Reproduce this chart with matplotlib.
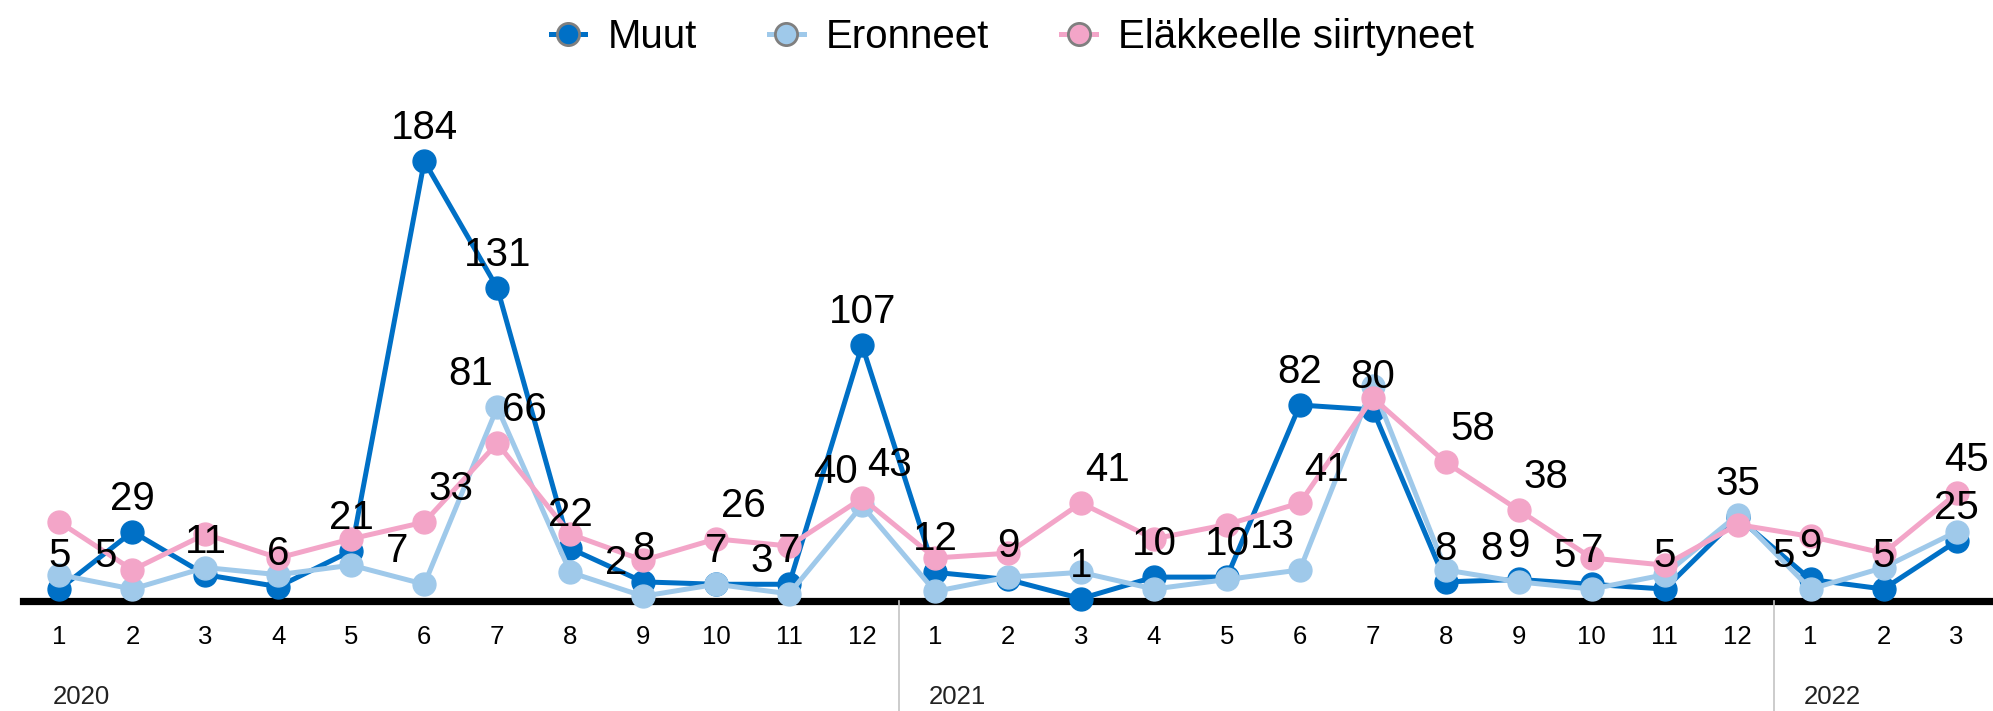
import matplotlib
matplotlib.use("Agg")
from matplotlib import pyplot as plt
from matplotlib.lines import Line2D

plt.rcParams['font.family'] = ['Liberation Sans', 'DejaVu Sans']

month_labels = [str(m) for m in range(1, 13)] * 2 + ['1', '2', '3']
years = ['2020', '2021', '2022']
year_starts = [0, 12, 24]

muut = [5, 29, 11, 6, 21, 184, 131, 22, 8, 7, 7, 107,
        12, 9, 1, 10, 10, 82, 80, 8, 9, 7, 5, 35,
        9, 5, 25]
eronneet = [11, 5, 14, 11, 15, 7, 81, 12, 2, 7, 3, 40,
            4, 10, 12, 5, 9, 13, 90, 13, 8, 5, 11, 36,
            5, 14, 29]
elakkeelle = [33, 13, 28, 18, 26, 33, 66, 28, 17, 26, 23, 43,
              18, 20, 41, 26, 32, 41, 85, 58, 38, 18, 15, 32,
              27, 20, 45]

# which points get a value label (others are hidden to avoid overlaps)
muut_shown = list(range(27))
eronneet_shown = [1, 5, 6, 8, 10, 11, 17, 20, 21, 24]
elakkeelle_shown = [5, 6, 9, 11, 14, 17, 19, 20, 26]

series = [
    ('Muut', muut, muut_shown, '#0070c6', 0),
    ('Eronneet', eronneet, eronneet_shown, '#9fc9ea', -27),
    ('Eläkkeelle siirtyneet', elakkeelle, elakkeelle_shown, '#f3a5c8', 27),
]

W, H = 1993, 711
fig = plt.figure(figsize=(W / 100, H / 100), dpi=100)
ax_left, ax_right, ax_top, ax_zero = 23, 1993, 80, 601
ax = fig.add_axes([ax_left / W, (H - ax_zero) / H, (ax_right - ax_left) / W, (ax_zero - ax_top) / H])
ax.set_xlim(-0.5, 26.5)
ax.set_ylim(0, (ax_zero - ax_top) / 2.39)

x = list(range(len(month_labels)))
for z, (name, vals, shown, color, dx) in enumerate(series):
    ax.plot(x, vals, color=color, lw=3.6, marker='o', ms=16.5, mec=color,
            clip_on=False, zorder=3 + z)
    for i in shown:
        off = dx
        if dx > 0 and i == len(x) - 1:
            off = 10
        ax.annotate(str(vals[i]), (x[i], vals[i]), xytext=(off, 33),
                    textcoords='offset pixels', ha='center', va='center',
                    fontsize=29, color='black', zorder=10, annotation_clip=False)

ax.axhline(0, color='black', lw=5.2, zorder=2, clip_on=False)
for s in ax.spines.values():
    s.set_visible(False)
ax.set_yticks([])
ax.set_xticks(x)
ax.set_xticklabels(month_labels, fontsize=18.5)
ax.tick_params(axis='x', length=0, pad=17)

# year groups below the month ticks
for yr, start in zip(years, year_starts):
    if start > 0:
        ax.axvline(start - 0.5, ymin=-(H - ax_zero) / (ax_zero - ax_top), ymax=0,
                   color='#c4c4c4', lw=1.2, clip_on=False)
    ax.text(start - 0.5 + 30 / 73.0, -96 / 2.39, yr, ha='left', va='center',
            fontsize=18.5, color='#222222')

handles = [Line2D([], [], color=c, lw=3.6, marker='o', ms=16, mfc=c, mec='#7f7f7f', mew=2)
           for _, _, _, c, _ in series]
fig.legend(handles, [s[0] for s in series], loc='center', bbox_to_anchor=(0.508, 1 - 37 / H),
           ncol=3, frameon=False, fontsize=29, handlelength=0.85, handletextpad=0.55,
           columnspacing=1.8)

fig.savefig('out.png', dpi=100)
